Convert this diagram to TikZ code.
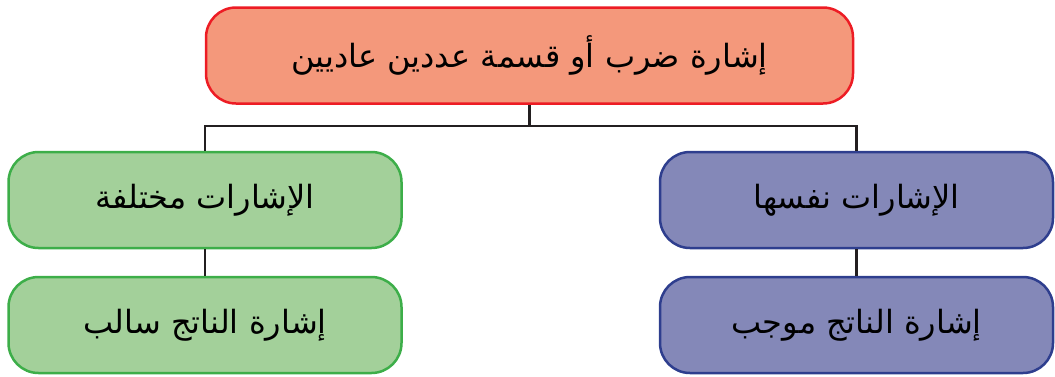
\documentclass[tikz,border=0pt]{standalone}
\usepackage{fontspec}
\TeXXeTstate=1
\newfontfamily\arabicfont[Script=Arabic]{DejaVu Sans}
\definecolor{topfill}{HTML}{F4987B}
\definecolor{topedge}{HTML}{ED1C24}
\definecolor{greenfill}{HTML}{A3D09A}
\definecolor{greenedge}{HTML}{3DAE49}
\definecolor{bluefill}{HTML}{8488B8}
\definecolor{blueedge}{HTML}{2E3E8E}
\definecolor{linkcol}{HTML}{231F20}
\tikzset{
  box/.style={draw, line width=2.5pt, rounded corners=30pt, minimum height=96pt,
    inner sep=0pt, align=center, text=black,
    font=\arabicfont\fontsize{32}{38}\selectfont},
  topbox/.style={box, fill=topfill, draw=topedge, minimum width=647pt},
  greenbox/.style={box, fill=greenfill, draw=greenedge, minimum width=393pt},
  bluebox/.style={box, fill=bluefill, draw=blueedge, minimum width=393pt},
  link/.style={draw=linkcol, line width=2.5pt}
}
\begin{document}
\begin{tikzpicture}[x=1pt,y=1pt]
  \useasboundingbox (0,0) rectangle (1055,-376);
  % the five boxes of the tree
  \node[topbox]   (top) at (529.5,-55.5) {\beginR إشارة ضرب أو قسمة عددين عاديين\endR};
  \node[greenbox] (l1)  at (205,-200)    {\beginR الإشارات مختلفة\endR};
  \node[greenbox] (l2)  at (205,-325)    {\beginR إشارة الناتج سالب\endR};
  \node[bluebox]  (r1)  at (856.5,-200)  {\beginR الإشارات نفسها\endR};
  \node[bluebox]  (r2)  at (856.5,-325)  {\beginR إشارة الناتج موجب\endR};
  % elbow connectors from the top box to both branches
  \coordinate (split) at (top.south |- 0,-126);
  \draw[link] (top.south) -- (split);
  \draw[link] (split) -| (l1.north);
  \draw[link] (split) -| (r1.north);
  \draw[link] (l1.south) -- (l2.north);
  \draw[link] (r1.south) -- (r2.north);
\end{tikzpicture}
\end{document}
